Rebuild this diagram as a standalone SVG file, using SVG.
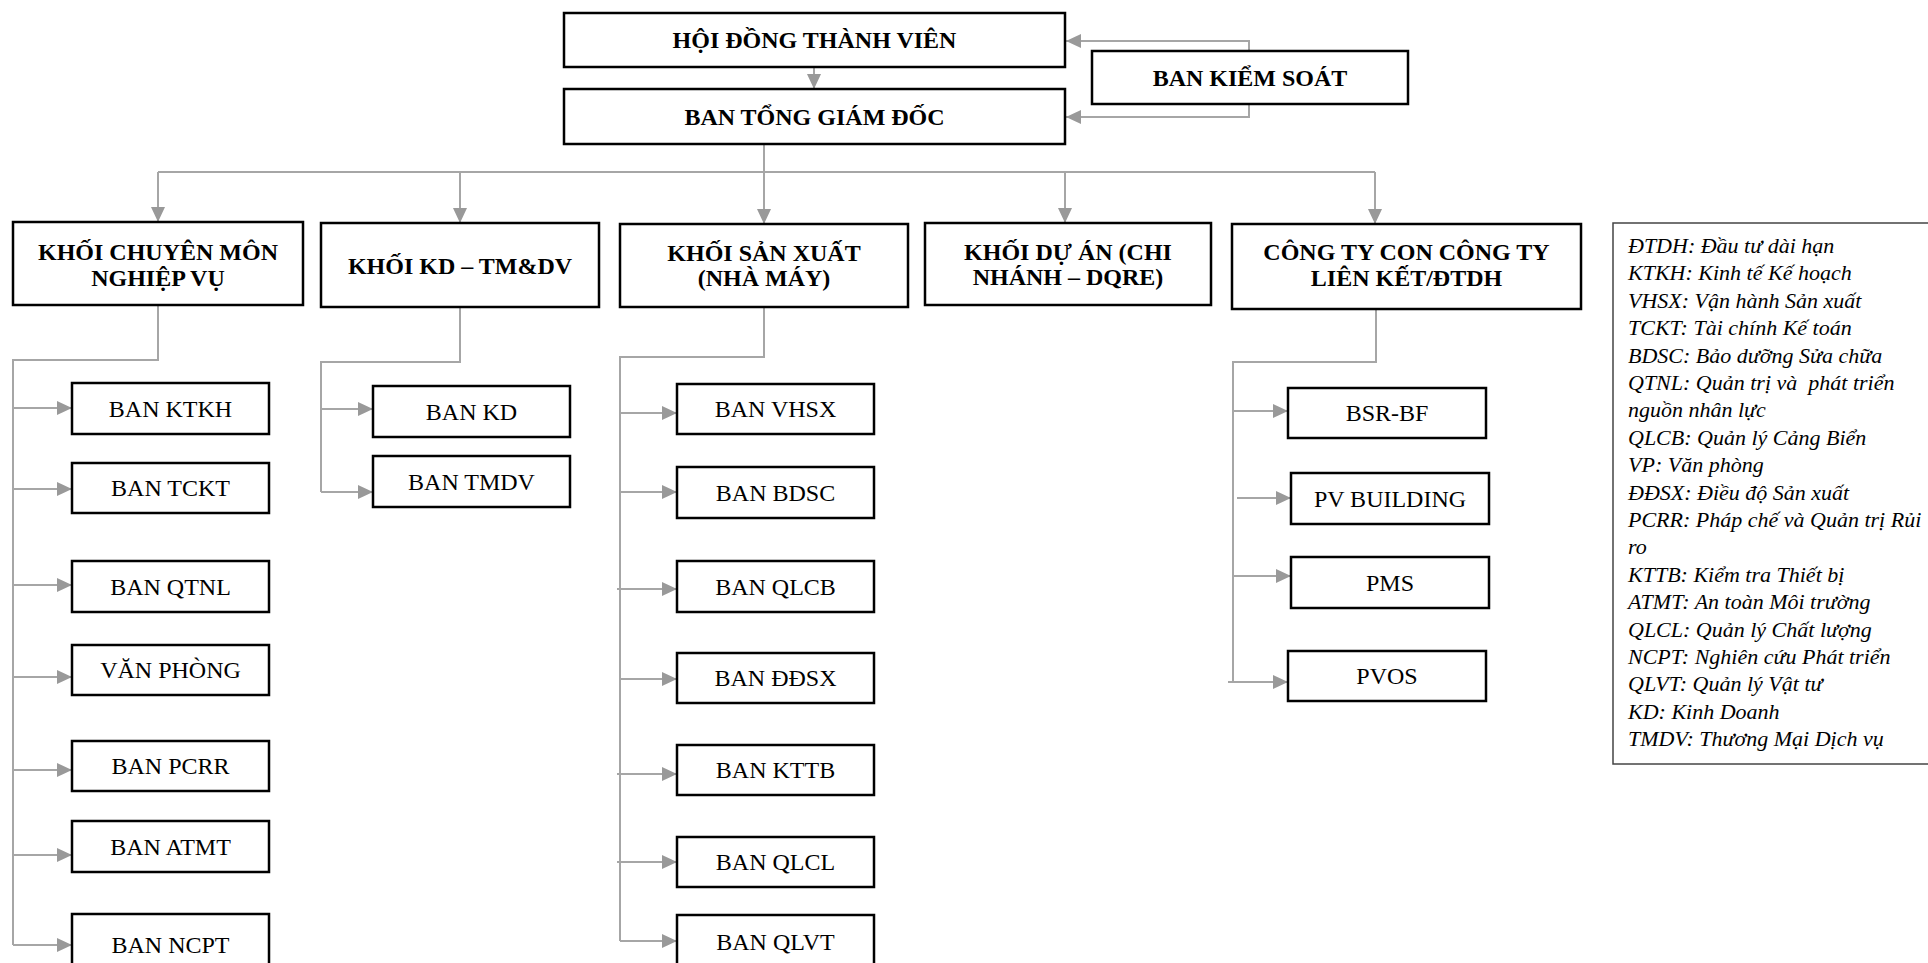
<svg xmlns="http://www.w3.org/2000/svg" width="1928" height="963" viewBox="0 0 1928 963">
<style>
.box{fill:#fff;stroke:#000;stroke-width:2.5}
.b{font-family:"Liberation Serif","Times New Roman",serif;font-weight:bold;font-size:24px;text-anchor:middle;fill:#000}
.r{font-family:"Liberation Serif","Times New Roman",serif;font-size:24px;text-anchor:middle;fill:#000}
.lg{font-family:"Liberation Serif","Times New Roman",serif;font-style:italic;font-size:22px;fill:#000}
.c{fill:none;stroke:#a6a6a6;stroke-width:2}
.a{fill:none;stroke:#a6a6a6;stroke-width:2;marker-end:url(#ah)}
</style>
<defs>
<marker id="ah" viewBox="0 0 15 14" refX="15" refY="7" markerWidth="15" markerHeight="14" markerUnits="userSpaceOnUse" orient="auto">
<path d="M0,0 L15,7 L0,14 z" fill="#999"/>
</marker>
</defs>
<rect width="1928" height="963" fill="#fff"/>
<g id="connectors">
<path class="a" d="M814,67 V89"/>
<path class="a" d="M1249,51 V41 H1066"/>
<path class="a" d="M1249,104 V117 H1066"/>
<path class="c" d="M764,144 V172 M158,172 H1375"/>
<path class="a" d="M158,172 V222"/>
<path class="a" d="M460,172 V223"/>
<path class="a" d="M764,172 V224"/>
<path class="a" d="M1065,172 V223"/>
<path class="a" d="M1375,172 V224"/>
<path class="c" d="M158,305 V360 H13 V945"/>
<path class="a" d="M13,408 H72"/>
<path class="a" d="M13,489 H72"/>
<path class="a" d="M13,585 H72"/>
<path class="a" d="M13,677 H72"/>
<path class="a" d="M13,770 H72"/>
<path class="a" d="M13,855 H72"/>
<path class="a" d="M13,945 H72"/>
<path class="c" d="M460,307 V362 H321 V492"/>
<path class="a" d="M321,409 H373"/>
<path class="a" d="M321,492 H373"/>
<path class="c" d="M764,307 V357 H620 V941"/>
<path class="a" d="M620,413 H677"/>
<path class="a" d="M620,492 H677"/>
<path class="a" d="M617,589 H677"/>
<path class="a" d="M620,679 H677"/>
<path class="a" d="M617,774 H677"/>
<path class="a" d="M617,862 H677"/>
<path class="a" d="M620,941 H677"/>
<path class="c" d="M1376,309 V362 H1233 V682"/>
<path class="a" d="M1233,411 H1288"/>
<path class="a" d="M1237,498 H1291"/>
<path class="a" d="M1233,576 H1291"/>
<path class="a" d="M1228,682 H1288"/>
</g>
<g id="hdtv"><rect class="box" x="564" y="13" width="501" height="54"/><text class="b" x="814.5" y="48">HỘI ĐỒNG THÀNH VIÊN</text></g>
<g id="btgd"><rect class="box" x="564" y="89" width="501" height="55"/><text class="b" x="814.5" y="125">BAN TỔNG GIÁM ĐỐC</text></g>
<g id="bks"><rect class="box" x="1092" y="51" width="316" height="53"/><text class="b" x="1250" y="86">BAN KIỂM SOÁT</text></g>
<g id="kcmnv"><rect class="box" x="13" y="222" width="290" height="83"/><text class="b" x="158" y="260">KHỐI CHUYÊN MÔN</text><text class="b" x="158" y="286">NGHIỆP VỤ</text></g>
<g id="kkd"><rect class="box" x="321" y="223" width="278" height="84"/><text class="b" x="460" y="274">KHỐI KD – TM&amp;DV</text></g>
<g id="ksx"><rect class="box" x="620" y="224" width="288" height="83"/><text class="b" x="764" y="261">KHỐI SẢN XUẤT</text><text class="b" x="764" y="286">(NHÀ MÁY)</text></g>
<g id="kda"><rect class="box" x="925" y="223" width="286" height="82"/><text class="b" x="1068" y="260">KHỐI DỰ ÁN (CHI</text><text class="b" x="1068" y="285">NHÁNH – DQRE)</text></g>
<g id="ctcon"><rect class="box" x="1232" y="224" width="349" height="85"/><text class="b" x="1406.5" y="260">CÔNG TY CON CÔNG TY</text><text class="b" x="1406.5" y="286">LIÊN KẾT/ĐTDH</text></g>
<g id="ktkh"><rect class="box" x="72" y="383" width="197" height="51"/><text class="r" x="170.5" y="417">BAN KTKH</text></g>
<g id="tckt"><rect class="box" x="72" y="463" width="197" height="50"/><text class="r" x="170.5" y="496">BAN TCKT</text></g>
<g id="qtnl"><rect class="box" x="72" y="561" width="197" height="51"/><text class="r" x="170.5" y="595">BAN QTNL</text></g>
<g id="vp"><rect class="box" x="72" y="645" width="197" height="50"/><text class="r" x="170.5" y="678">VĂN PHÒNG</text></g>
<g id="pcrr"><rect class="box" x="72" y="741" width="197" height="50"/><text class="r" x="170.5" y="774">BAN PCRR</text></g>
<g id="atmt"><rect class="box" x="72" y="821" width="197" height="51"/><text class="r" x="170.5" y="855">BAN ATMT</text></g>
<g id="ncpt"><rect class="box" x="72" y="914" width="197" height="60"/><text class="r" x="170.5" y="953">BAN NCPT</text></g>
<g id="kd"><rect class="box" x="373" y="386" width="197" height="51"/><text class="r" x="471.5" y="420">BAN KD</text></g>
<g id="tmdv"><rect class="box" x="373" y="456" width="197" height="51"/><text class="r" x="471.5" y="490">BAN TMDV</text></g>
<g id="vhsx"><rect class="box" x="677" y="384" width="197" height="50"/><text class="r" x="775.5" y="417">BAN VHSX</text></g>
<g id="bdsc"><rect class="box" x="677" y="467" width="197" height="51"/><text class="r" x="775.5" y="501">BAN BDSC</text></g>
<g id="qlcb"><rect class="box" x="677" y="561" width="197" height="51"/><text class="r" x="775.5" y="595">BAN QLCB</text></g>
<g id="ddsx"><rect class="box" x="677" y="653" width="197" height="50"/><text class="r" x="775.5" y="686">BAN ĐĐSX</text></g>
<g id="kttb"><rect class="box" x="677" y="745" width="197" height="50"/><text class="r" x="775.5" y="778">BAN KTTB</text></g>
<g id="qlcl"><rect class="box" x="677" y="837" width="197" height="50"/><text class="r" x="775.5" y="870">BAN QLCL</text></g>
<g id="qlvt"><rect class="box" x="677" y="915" width="197" height="60"/><text class="r" x="775.5" y="950">BAN QLVT</text></g>
<g id="bsrbf"><rect class="box" x="1288" y="388" width="198" height="50"/><text class="r" x="1387" y="421">BSR-BF</text></g>
<g id="pvbuilding"><rect class="box" x="1291" y="473" width="198" height="51"/><text class="r" x="1390" y="507">PV BUILDING</text></g>
<g id="pms"><rect class="box" x="1291" y="557" width="198" height="51"/><text class="r" x="1390" y="591">PMS</text></g>
<g id="pvos"><rect class="box" x="1288" y="651" width="198" height="50"/><text class="r" x="1387" y="684">PVOS</text></g>
<g id="legend">
<rect x="1613" y="223" width="400" height="541" fill="#fff" stroke="#444" stroke-width="1.5"/>
<text class="lg" x="1628" y="253">ĐTDH: Đầu tư dài hạn</text>
<text class="lg" x="1628" y="280">KTKH: Kinh tế Kế hoạch</text>
<text class="lg" x="1628" y="308">VHSX: Vận hành Sản xuất</text>
<text class="lg" x="1628" y="335">TCKT: Tài chính Kế toán</text>
<text class="lg" x="1628" y="363">BDSC: Bảo dưỡng Sửa chữa</text>
<text class="lg" x="1628" y="390">QTNL: Quản trị và&#160; phát triển</text>
<text class="lg" x="1628" y="417">nguồn nhân lực</text>
<text class="lg" x="1628" y="445">QLCB: Quản lý Cảng Biển</text>
<text class="lg" x="1628" y="472">VP: Văn phòng</text>
<text class="lg" x="1628" y="500">ĐĐSX: Điều độ Sản xuất</text>
<text class="lg" x="1628" y="527">PCRR: Pháp chế và Quản trị Rủi</text>
<text class="lg" x="1628" y="554">ro</text>
<text class="lg" x="1628" y="582">KTTB: Kiểm tra Thiết bị</text>
<text class="lg" x="1628" y="609">ATMT: An toàn Môi trường</text>
<text class="lg" x="1628" y="637">QLCL: Quản lý Chất lượng</text>
<text class="lg" x="1628" y="664">NCPT: Nghiên cứu Phát triển</text>
<text class="lg" x="1628" y="691">QLVT: Quản lý Vật tư</text>
<text class="lg" x="1628" y="719">KD: Kinh Doanh</text>
<text class="lg" x="1628" y="746">TMDV: Thương Mại Dịch vụ</text>
</g>
</svg>
